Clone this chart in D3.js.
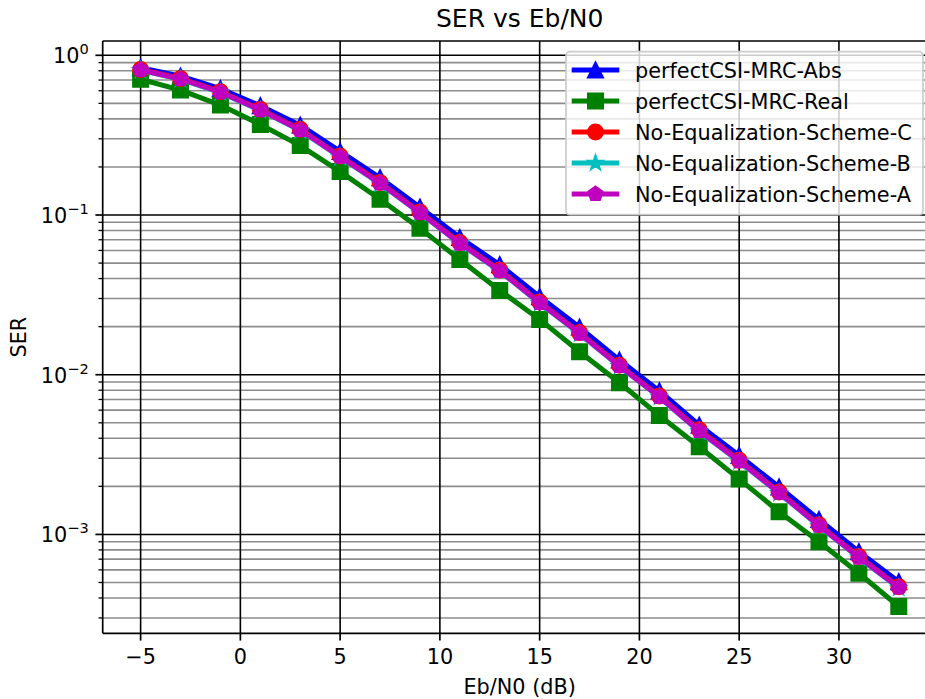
<!DOCTYPE html>
<html>
<head>
<meta charset="utf-8">
<script src="https://cdn.jsdelivr.net/npm/d3@7"></script>
<style>
  body { margin: 0; background: #fff; }
  text { font-family: "DejaVu Sans", sans-serif; fill: #000; }
</style>
</head>
<body>
<svg id="chart" width="925" height="699"></svg>
<script>
// SER curves
const snrDb = [-5, -3, -1, 1, 3, 5, 7, 9, 11, 13, 15, 17, 19, 21, 23, 25, 27, 29, 31, 33];
const serAbs = [0.835, 0.74, 0.618, 0.483, 0.365, 0.25, 0.171, 0.112, 0.0722, 0.0488, 0.0308, 0.0198,
                0.01235, 0.00792, 0.00483, 0.00312, 0.00198, 0.00124, 0.00078, 0.000505];
const serReal = [0.708, 0.606, 0.488, 0.369, 0.272, 0.187, 0.1254, 0.0825, 0.0526, 0.0337, 0.0222, 0.01393,
                 0.00891, 0.00555, 0.00354, 0.00222, 0.001388, 0.0009, 0.000571, 0.000354];
const serSchemeC = [0.815, 0.716, 0.592, 0.459, 0.344, 0.234, 0.16, 0.1045, 0.0672, 0.0453, 0.0285, 0.01835,
                    0.01146, 0.00736, 0.00452, 0.00291, 0.001845, 0.00115, 0.000727, 0.00047];
const serSchemeB = [0.805, 0.707, 0.584, 0.452, 0.338, 0.23, 0.157, 0.1028, 0.0661, 0.0445, 0.028, 0.01806,
                    0.01128, 0.00724, 0.00441, 0.00286, 0.001812, 0.00113, 0.000714, 0.000462];
const serSchemeA = [0.809, 0.711, 0.587, 0.4545, 0.3405, 0.2318, 0.158, 0.1034, 0.0665, 0.0448, 0.0282, 0.01816,
                    0.01134, 0.00728, 0.00444, 0.00288, 0.001824, 0.001137, 0.000719, 0.000465];

const seriesNames = ["perfectCSI-MRC-Abs", "perfectCSI-MRC-Real", "No-Equalization-Scheme-C",
                     "No-Equalization-Scheme-B", "No-Equalization-Scheme-A"];
const seriesColors = ["#0000ff", "#008000", "#ff0000", "#00bfbf", "#bf00bf"];
const seriesMarkers = ["triangle", "square", "circle", "star", "pentagon"];
const seriesValues = [serAbs, serReal, serSchemeC, serSchemeB, serSchemeA];

const xTicks = [-5, 0, 5, 10, 15, 20, 25, 30];
const yMajor = [1e-3, 1e-2, 1e-1, 1];
const yExp = ["\u22123", "\u22122", "\u22121", "0"];

const svg = d3.select("#chart");

// axes box (right side gets cropped by the picture edge like the original)
const pL = 102.7, pR = 936.7, pT = 41, pB = 633.3;

const x = d3.scaleLinear().domain([-6.9, 34.9]).range([pL, pR]);
const y = d3.scaleLog().domain([2.404e-4, 1.229]).range([pB, pT]);

// minor decade values for the gray grid
const yMinor = [];
[-4, -3, -2, -1, 0].forEach(function(d) {
    for (let k = 2; k <= 9; k++) {
        const v = k * Math.pow(10, d);
        if (v > y.domain()[0] && v < y.domain()[1]) yMinor.push(v);
    }
});

svg.append("defs").append("clipPath").attr("id", "plotclip")
    .append("rect").attr("x", pL).attr("y", pT)
    .attr("width", pR - pL).attr("height", pB - pT);

// grid
const grid = svg.append("g");
grid.selectAll(".minor").data(yMinor).enter().append("line")
    .attr("x1", pL).attr("x2", pR)
    .attr("y1", d => y(d)).attr("y2", d => y(d))
    .attr("stroke", "#8c8c8c").attr("stroke-width", 1.6);
grid.selectAll(".majory").data(yMajor).enter().append("line")
    .attr("x1", pL).attr("x2", pR)
    .attr("y1", d => y(d)).attr("y2", d => y(d))
    .attr("stroke", "#000").attr("stroke-width", 1.6);
grid.selectAll(".majorx").data(xTicks).enter().append("line")
    .attr("x1", d => x(d)).attr("x2", d => x(d))
    .attr("y1", pT).attr("y2", pB)
    .attr("stroke", "#000").attr("stroke-width", 1.6);

// marker shapes, s = full size in px
function markerPath(type, s) {
    const r = s / 2;
    if (type === "triangle") return `M0,${-r}L${r},${r}L${-r},${r}Z`;
    if (type === "square") return `M${-r},${-r}H${r}V${r}H${-r}Z`;
    if (type === "circle") return `M${r},0A${r},${r} 0 1,1 ${-r},0A${r},${r} 0 1,1 ${r},0Z`;
    const pts = [];
    if (type === "star") {
        for (let i = 0; i < 10; i++) {
            const rr = i % 2 === 0 ? r : r * 0.381966;
            const a = -Math.PI / 2 + i * Math.PI / 5;
            pts.push([rr * Math.cos(a), rr * Math.sin(a)]);
        }
    } else {
        for (let i = 0; i < 5; i++) {
            const a = -Math.PI / 2 + i * 2 * Math.PI / 5;
            pts.push([r * Math.cos(a), r * Math.sin(a)]);
        }
    }
    return "M" + pts.map(p => p.join(",")).join("L") + "Z";
}

const line = d3.line().x(d => x(d[0])).y(d => y(d[1]));
const plot = svg.append("g").attr("clip-path", "url(#plotclip)");

seriesValues.forEach(function(vals, i) {
    const pts = snrDb.map((s, j) => [s, vals[j]]);
    const g = plot.append("g");
    g.append("path").datum(pts)
        .attr("d", line)
        .attr("fill", "none")
        .attr("stroke", seriesColors[i])
        .attr("stroke-width", 5)
        .attr("stroke-linejoin", "round");
    g.selectAll("path.mk").data(pts).enter().append("path")
        .attr("class", "mk")
        .attr("transform", d => "translate(" + x(d[0]) + "," + y(d[1]) + ")")
        .attr("d", markerPath(seriesMarkers[i], 15))
        .attr("fill", seriesColors[i])
        .attr("stroke", seriesColors[i])
        .attr("stroke-width", 2)
        .attr("stroke-linejoin", "miter");
});

// spines
svg.append("line").attr("x1", pL).attr("x2", pL).attr("y1", pT).attr("y2", pB)
    .attr("stroke", "#000").attr("stroke-width", 1.7);
svg.append("line").attr("x1", pL).attr("x2", pR).attr("y1", pT).attr("y2", pT)
    .attr("stroke", "#000").attr("stroke-width", 1.7);
svg.append("line").attr("x1", pL).attr("x2", pR).attr("y1", pB).attr("y2", pB)
    .attr("stroke", "#000").attr("stroke-width", 1.7);

// x ticks
const xt = svg.append("g").selectAll("g").data(xTicks).enter().append("g")
    .attr("transform", d => "translate(" + x(d) + "," + pB + ")");
xt.append("line").attr("y2", 7.3).attr("stroke", "#000").attr("stroke-width", 1.7);
xt.append("text").attr("y", 31).attr("text-anchor", "middle")
    .style("font-size", "20.8px")
    .text(d => d < 0 ? "\u2212" + Math.abs(d) : d);

// y ticks
svg.append("g").selectAll("line").data(yMinor).enter().append("line")
    .attr("x1", pL - 4.2).attr("x2", pL)
    .attr("y1", d => y(d)).attr("y2", d => y(d))
    .attr("stroke", "#000").attr("stroke-width", 1.3);
const yt = svg.append("g").selectAll("g").data(yMajor).enter().append("g")
    .attr("transform", d => "translate(" + pL + "," + y(d) + ")");
yt.append("line").attr("x1", -7.3).attr("stroke", "#000").attr("stroke-width", 1.7);
const ytxt = yt.append("text").attr("x", -14).attr("y", 8).attr("text-anchor", "end")
    .style("font-size", "20.8px");
ytxt.append("tspan").text("10");
ytxt.append("tspan").attr("dy", -9).style("font-size", "14.6px")
    .text((d, i) => yExp[i]);

// titles
svg.append("text").attr("x", (pL + pR) / 2).attr("y", 27)
    .attr("text-anchor", "middle").style("font-size", "25px").text("SER vs Eb/N0");
svg.append("text").attr("x", (pL + pR) / 2).attr("y", 694)
    .attr("text-anchor", "middle").style("font-size", "20.8px").text("Eb/N0 (dB)");
svg.append("text")
    .attr("transform", "translate(26," + ((pT + pB) / 2) + ")rotate(-90)")
    .attr("text-anchor", "middle").style("font-size", "20.8px").text("SER");

// legend
const legend = svg.append("g");
legend.append("rect").attr("x", 566).attr("y", 51.7).attr("width", 357).attr("height", 163)
    .attr("rx", 4).attr("fill", "#fff").attr("fill-opacity", 0.8)
    .attr("stroke", "#cccccc").attr("stroke-width", 1.7);
const li = legend.selectAll(".item").data(seriesNames).enter().append("g")
    .attr("transform", (d, i) => "translate(0," + (70 + i * 31) + ")");
li.append("line").attr("x1", 571.7).attr("x2", 619.3)
    .attr("stroke", (d, i) => seriesColors[i]).attr("stroke-width", 5);
li.append("path").attr("transform", "translate(595.5,0)")
    .attr("d", (d, i) => markerPath(seriesMarkers[i], 15))
    .attr("fill", (d, i) => seriesColors[i])
    .attr("stroke", (d, i) => seriesColors[i]).attr("stroke-width", 2);
li.append("text").attr("x", 635).attr("y", 7.5)
    .style("font-size", "20.8px").text(d => d);
</script>
</body>
</html>
